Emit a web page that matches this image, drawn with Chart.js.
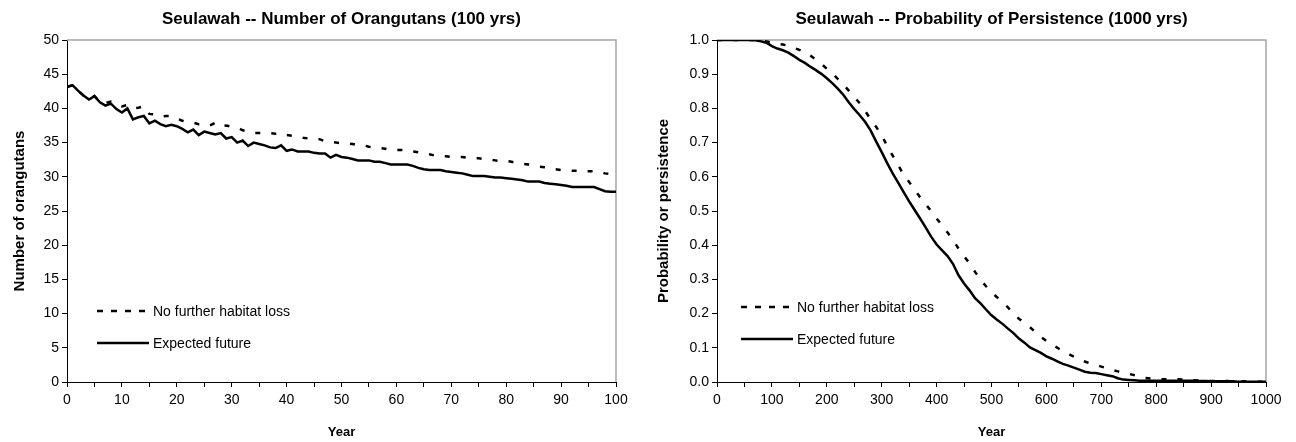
<!DOCTYPE html>
<html>
  <head>
    <title>Seulawah</title>
    <script src="https://cdn.jsdelivr.net/npm/chart.js"></script>
    <style>
      body { margin: 0; background: #fff; }
      .wrap { position: absolute; top: 0; width: 648px; height: 442px; }
    </style>
  </head>
  <body>
    <div class="wrap" style="left: 0"><canvas id="numbers" width="648" height="442"></canvas></div>
    <div class="wrap" style="left: 648px"><canvas id="persistence" width="648" height="442"></canvas></div>

    <script>
      // number of orangutans, one value per year 0..100
      const noLossCount = [
        43.1, 43.4, 42.6, 41.9, 41.4, 41.8, 41.0, 40.8, 41.0, 40.6,
        40.3, 40.5, 40.0, 40.1, 40.3, 39.2, 39.1, 38.8, 38.9, 38.9,
        38.5, 38.2, 38.0, 37.9, 37.7, 37.7, 37.5, 37.9, 37.4, 37.5,
        37.3, 37.2, 36.8, 36.6, 36.4, 36.4, 36.4, 36.4, 36.3, 36.4,
        36.1, 36.0, 35.9, 35.7, 35.6, 35.5, 35.5, 35.2, 35.1, 35.0,
        34.9, 34.9, 34.8, 34.6, 34.6, 34.4, 34.3, 34.2, 34.1, 33.9,
        33.9, 33.9, 33.8, 33.7, 33.6, 33.4, 33.3, 33.1, 33.0, 33.0,
        32.9, 32.9, 32.9, 32.8, 32.7, 32.7, 32.6, 32.5, 32.4, 32.3,
        32.3, 32.2, 32.0, 31.9, 31.8, 31.7, 31.5, 31.4, 31.3, 31.1,
        31.0, 31.0, 30.9, 30.9, 30.8, 30.8, 30.8, 30.7, 30.5, 30.4,
        30.3
      ];
      const expectedCount = [
        43.1, 43.4, 42.6, 41.9, 41.3, 41.8, 40.9, 40.4, 40.7, 39.9,
        39.4, 40.0, 38.4, 38.7, 38.9, 37.8, 38.2, 37.7, 37.4, 37.6,
        37.4, 37.0, 36.5, 36.9, 36.1, 36.6, 36.4, 36.2, 36.4, 35.6,
        35.8, 35.0, 35.3, 34.5, 35.0, 34.8, 34.6, 34.3, 34.2, 34.6,
        33.8, 34.0, 33.7, 33.7, 33.7, 33.5, 33.4, 33.4, 32.8, 33.2,
        32.9, 32.8, 32.6, 32.4, 32.4, 32.4, 32.2, 32.2, 32.0, 31.8,
        31.8, 31.8, 31.8, 31.6, 31.3, 31.1, 31.0, 31.0, 31.0, 30.8,
        30.7, 30.6, 30.5, 30.3, 30.1, 30.1, 30.1, 30.0, 29.9, 29.9,
        29.8, 29.7, 29.6, 29.5, 29.3, 29.3, 29.3, 29.1, 29.0, 28.9,
        28.8, 28.7, 28.5, 28.5, 28.5, 28.5, 28.5, 28.2, 27.9, 27.8,
        27.8
      ];
      const countYears = expectedCount.map((v, i) => i);

      // probability of persistence, one value every 10 years 0..1000
      const noLossProb = [
        1.000, 1.000, 1.000, 1.000, 1.000, 1.000, 1.000, 1.000, 0.999, 0.996,
        0.992, 0.989, 0.987, 0.983, 0.977, 0.971, 0.965, 0.955, 0.943, 0.930,
        0.916, 0.903, 0.886, 0.870, 0.852, 0.833, 0.815, 0.792, 0.768, 0.746,
        0.721, 0.690, 0.662, 0.634, 0.606, 0.585, 0.562, 0.540, 0.520, 0.500,
        0.478, 0.458, 0.437, 0.415, 0.390, 0.368, 0.347, 0.322, 0.299, 0.280,
        0.262, 0.248, 0.233, 0.218, 0.200, 0.185, 0.172, 0.160, 0.146, 0.132,
        0.120, 0.110, 0.100, 0.090, 0.082, 0.074, 0.067, 0.060, 0.054, 0.050,
        0.045, 0.040, 0.035, 0.031, 0.027, 0.024, 0.020, 0.016, 0.012, 0.010,
        0.008, 0.008, 0.008, 0.008, 0.008, 0.007, 0.006, 0.005, 0.004, 0.003,
        0.003, 0.003, 0.003, 0.003, 0.002, 0.002, 0.002, 0.001, 0.001, 0.001,
        0.001
      ];
      const expectedProb = [
        1.000, 1.000, 1.000, 1.000, 1.000, 1.000, 1.000, 0.999, 0.996, 0.992,
        0.982, 0.975, 0.970, 0.963, 0.953, 0.942, 0.933, 0.922, 0.912, 0.901,
        0.888, 0.874, 0.858, 0.840, 0.818, 0.798, 0.780, 0.760, 0.735, 0.703,
        0.672, 0.640, 0.610, 0.583, 0.555, 0.528, 0.503, 0.478, 0.452, 0.425,
        0.402, 0.385, 0.368, 0.345, 0.312, 0.288, 0.268, 0.245, 0.230, 0.212,
        0.195, 0.182, 0.170, 0.156, 0.143, 0.127, 0.115, 0.101, 0.093, 0.085,
        0.075, 0.068, 0.060, 0.053, 0.048, 0.042, 0.036, 0.030, 0.027, 0.026,
        0.023, 0.020, 0.017, 0.011, 0.007, 0.006, 0.005, 0.004, 0.004, 0.004,
        0.004, 0.004, 0.004, 0.004, 0.004, 0.004, 0.004, 0.004, 0.003, 0.003,
        0.002, 0.002, 0.002, 0.002, 0.002, 0.001, 0.001, 0.001, 0.001, 0.001,
        0.001
      ];
      const probYears = expectedProb.map((v, i) => i * 10);

      const seriesNames = ["No further habitat loss", "Expected future"];

      Chart.defaults.font.family = "'Liberation Sans', Arial, sans-serif";
      Chart.defaults.color = "#000";

      // grey plot-area border on top and right, like the original
      const framePlugin = {
        id: "frame",
        beforeDatasetsDraw(chart) {
          const { ctx, chartArea: a } = chart;
          ctx.save();
          ctx.strokeStyle = "#a6a6a6";
          ctx.lineWidth = 1.5;
          ctx.beginPath();
          ctx.moveTo(a.left, a.top);
          ctx.lineTo(a.right, a.top);
          ctx.lineTo(a.right, a.bottom);
          ctx.stroke();
          ctx.restore();
        },
      };

      // legend drawn inside the plot, lower left
      const insideLegend = {
        id: "insideLegend",
        afterDatasetsDraw(chart, args, opts) {
          const { ctx, chartArea: a } = chart;
          ctx.save();
          ctx.font = "14px 'Liberation Sans', Arial, sans-serif";
          ctx.fillStyle = "#000";
          ctx.textBaseline = "middle";
          chart.data.datasets.forEach((ds, i) => {
            const x = a.left + opts.x;
            const y = a.top + opts.y + i * 32;
            ctx.strokeStyle = ds.borderColor;
            ctx.lineWidth = ds.borderWidth;
            ctx.setLineDash(ds.borderDash ? [6, 8] : []);
            ctx.beginPath();
            ctx.moveTo(x, y);
            ctx.lineTo(x + 52, y);
            ctx.stroke();
            ctx.fillText(ds.label, x + 56, y + 1);
          });
          ctx.restore();
        },
      };

      function makeChart(id, opt) {
        return new Chart(document.getElementById(id), {
          type: "line",
          data: {
            datasets: [
              {
                label: seriesNames[0],
                data: opt.x.map((x, i) => ({ x: x, y: opt.noLoss[i] })),
                borderColor: "#000",
                borderWidth: 2.5,
                borderDash: [5, 11],
                pointRadius: 0,
              },
              {
                label: seriesNames[1],
                data: opt.x.map((x, i) => ({ x: x, y: opt.expected[i] })),
                borderColor: "#000",
                borderWidth: 2.5,
                pointRadius: 0,
              },
            ],
          },
          options: {
            responsive: false,
            animation: false,
            layout: { padding: { left: 0, right: opt.padRight, top: 0, bottom: 0 } },
            plugins: {
              legend: { display: false },
              tooltip: { enabled: false },
              title: {
                display: true,
                text: opt.title,
                fullSize: false,
                font: { size: 17, weight: "bold" },
                padding: { top: 9, bottom: 10.6 },
              },
              insideLegend: opt.legend,
            },
            scales: {
              x: {
                type: "linear",
                min: 0,
                max: opt.xMax,
                afterFit: (s) => { s.height = 60; },
                ticks: {
                  stepSize: opt.xStep,
                  autoSkip: false,
                  maxRotation: 0,
                  padding: 5,
                  font: { size: 14 },
                  callback: (v) => (v % (opt.xStep * 2) === 0 ? v : ""),
                },
                grid: { drawOnChartArea: false, tickLength: 5, color: "#000" },
                border: { color: "#000", width: 1 },
                title: {
                  display: true,
                  text: "Year",
                  font: { size: 13, weight: "bold" },
                  padding: { top: 0, bottom: 2 },
                },
              },
              y: {
                min: 0,
                max: opt.yMax,
                afterFit: (s) => { s.width = opt.yWidth; },
                ticks: {
                  stepSize: opt.yStep,
                  padding: 3,
                  font: { size: 14 },
                  callback: opt.yFormat,
                },
                grid: { drawOnChartArea: false, tickLength: 5, color: "#000" },
                border: { color: "#000", width: 1 },
                title: {
                  display: true,
                  text: opt.yTitle,
                  font: { size: 15, weight: "bold" },
                  padding: { top: opt.yTitlePad, bottom: 0 },
                },
              },
            },
          },
          plugins: [framePlugin, insideLegend],
        });
      }

      makeChart("numbers", {
        title: "Seulawah -- Number of Orangutans (100 yrs)",
        yTitle: "Number of orangutans",
        x: countYears,
        noLoss: noLossCount,
        expected: expectedCount,
        xMax: 100,
        xStep: 5,
        yMax: 50,
        yStep: 5,
        yFormat: (v) => v,
        yWidth: 67,
        yTitlePad: 11,
        padRight: 32,
        legend: { x: 30, y: 271 },
      });

      makeChart("persistence", {
        title: "Seulawah -- Probability of Persistence (1000 yrs)",
        yTitle: "Probability or persistence",
        x: probYears,
        noLoss: noLossProb,
        expected: expectedProb,
        xMax: 1000,
        xStep: 50,
        yMax: 1,
        yStep: 0.1,
        yFormat: (v) => v.toFixed(1),
        yWidth: 69,
        yTitlePad: 7,
        padRight: 30,
        legend: { x: 24, y: 267 },
      });
    </script>
  </body>
</html>
